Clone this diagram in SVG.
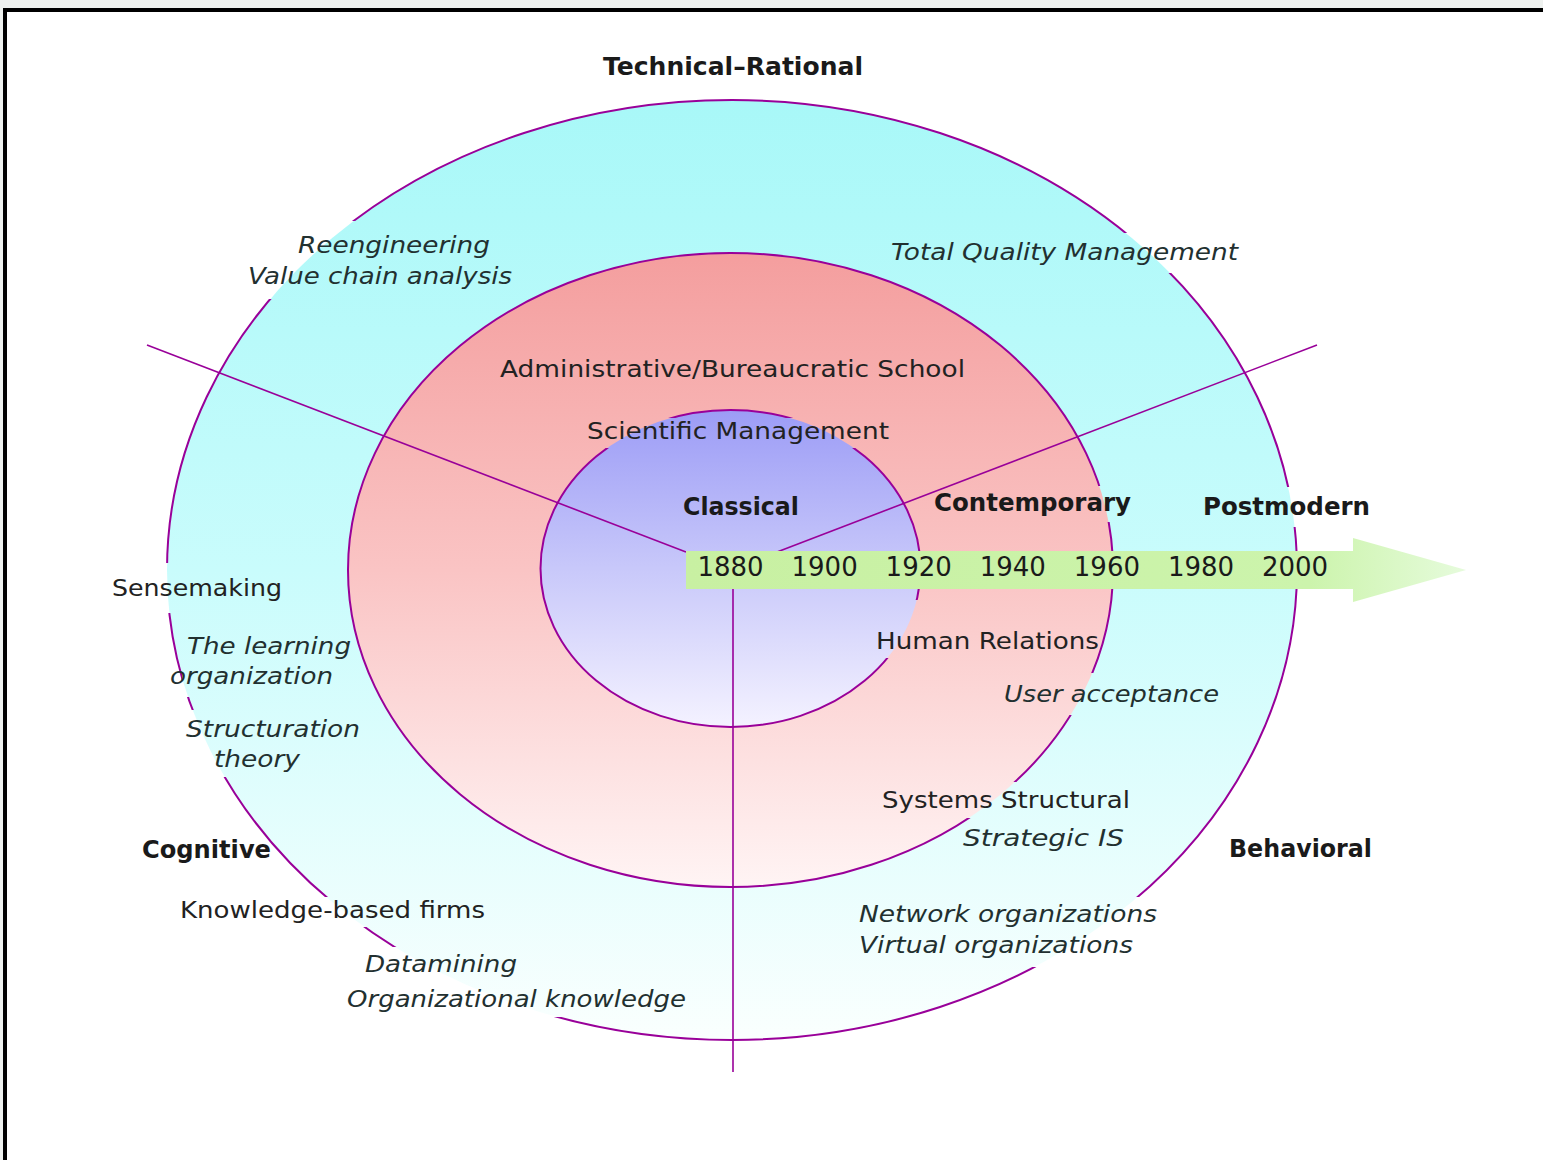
<svg xmlns="http://www.w3.org/2000/svg" width="1543" height="1160" viewBox="0 0 1543 1160">
<defs>
<linearGradient id="gOuter" x1="0" y1="0" x2="0" y2="1">
<stop offset="0" stop-color="#a8f8f8"/>
<stop offset="0.5" stop-color="#c9fcfc"/>
<stop offset="1" stop-color="#fafffe"/>
</linearGradient>
<linearGradient id="gMid" x1="0" y1="0" x2="0" y2="1">
<stop offset="0" stop-color="#f49e9e"/>
<stop offset="0.5" stop-color="#fac4c4"/>
<stop offset="1" stop-color="#fff4f4"/>
</linearGradient>
<linearGradient id="gIn" x1="0" y1="0" x2="0" y2="1">
<stop offset="0" stop-color="#9c9cf6"/>
<stop offset="0.5" stop-color="#c8c8fa"/>
<stop offset="1" stop-color="#f4f2ff"/>
</linearGradient>
<linearGradient id="gArrow" x1="686" y1="0" x2="1466" y2="0" gradientUnits="userSpaceOnUse">
<stop offset="0" stop-color="#c8f0a2"/>
<stop offset="0.8" stop-color="#ccf4ac"/>
<stop offset="1" stop-color="#e6fbdc"/>
</linearGradient>
<mask id="textGaps" maskUnits="userSpaceOnUse" x="0" y="0" width="1543" height="1160">
<rect x="0" y="0" width="1543" height="1160" fill="#fff"/>
<rect x="240" y="221" width="280" height="78" fill="#000"/>
<rect x="885" y="233" width="360" height="40" fill="#000"/>
<rect x="583" y="418" width="310" height="30" fill="#000"/>
<rect x="928" y="486" width="208" height="36" fill="#000"/>
<rect x="1198" y="487" width="177" height="40" fill="#000"/>
<rect x="105" y="563" width="185" height="50" fill="#000"/>
<rect x="182" y="664" width="156" height="33" fill="#000"/>
<rect x="180" y="710" width="185" height="67" fill="#000"/>
<rect x="175" y="897" width="315" height="30" fill="#000"/>
<rect x="340" y="947" width="352" height="70" fill="#000"/>
<rect x="870" y="600" width="227" height="58" fill="#000"/>
<rect x="1000" y="673" width="225" height="42" fill="#000"/>
<rect x="878" y="782" width="257" height="36" fill="#000"/>
<rect x="852" y="897" width="310" height="70" fill="#000"/>
</mask>
<style>
.ring{stroke:none}
.edge{fill:none;stroke:#990099;stroke-width:2}
.ray{fill:none;stroke:#990099;stroke-width:1.6}
.t{font-family:"DejaVu Sans","Liberation Sans",sans-serif;font-size:23px;fill:#222}
.i{font-style:italic;fill:#223030}
.b{font-weight:bold;font-size:25px;fill:#1a1a1a}
.y{font-family:"DejaVu Sans","Liberation Sans",sans-serif;font-size:26px;fill:#1a1a1a;text-anchor:middle}
</style>
</defs>
<rect x="0" y="0" width="1543" height="1160" fill="#eef1ef"/>
<rect x="3" y="8" width="1540" height="1152" fill="#ffffff"/>
<rect x="3" y="8" width="1540" height="4" fill="#000"/>
<rect x="3" y="8" width="4" height="1152" fill="#000"/>

<g id="rings">
<ellipse id="postmodern-ring" class="ring" cx="732" cy="570" rx="565" ry="470" fill="url(#gOuter)"/>
<ellipse id="contemporary-ring" class="ring" cx="730.5" cy="570" rx="382.5" ry="317" fill="url(#gMid)"/>
<ellipse id="classical-ring" class="ring" cx="730.5" cy="568.5" rx="190" ry="158.5" fill="url(#gIn)"/>
</g>
<g id="ring-edges" mask="url(#textGaps)">
<ellipse class="edge" cx="732" cy="570" rx="565" ry="470"/>
<ellipse class="edge" cx="730.5" cy="570" rx="382.5" ry="317"/>
<ellipse class="edge" cx="730.5" cy="568.5" rx="190" ry="158.5"/>
</g>

<g id="connectors">
<line class="ray" x1="147" y1="345" x2="686" y2="552"/>
<line class="ray" x1="1317" y1="345" x2="777" y2="552"/>
<line class="ray" x1="733" y1="588" x2="733" y2="1072"/>
<path id="timeline-arrow" d="M686 551 H1353 V538 L1466 570 L1353 602 V589 H686 Z" fill="url(#gArrow)"/>
</g>

<g id="years">
<text class="y" x="730.5" y="576">1880</text>
<text class="y" x="824.6" y="576">1900</text>
<text class="y" x="918.7" y="576">1920</text>
<text class="y" x="1012.8" y="576">1940</text>
<text class="y" x="1106.9" y="576">1960</text>
<text class="y" x="1201" y="576">1980</text>
<text class="y" x="1295" y="576">2000</text>
</g>

<g id="labels">
<g id="technical-rational"><text class="t b" x="603" y="75" textLength="260" lengthAdjust="spacingAndGlyphs">Technical–Rational</text></g>
<g id="reengineering"><text class="t i" x="298" y="253" textLength="192" lengthAdjust="spacingAndGlyphs">Reengineering</text>
<text class="t i" x="248" y="284" textLength="264" lengthAdjust="spacingAndGlyphs">Value chain analysis</text></g>
<g id="tqm"><text class="t i" x="891" y="260" textLength="347" lengthAdjust="spacingAndGlyphs">Total Quality Management</text></g>
<g id="administrative"><text class="t" x="500" y="377" textLength="465" lengthAdjust="spacingAndGlyphs">Administrative/Bureaucratic School</text></g>
<g id="scientific"><text class="t" x="587" y="439" textLength="302" lengthAdjust="spacingAndGlyphs">Scientific Management</text></g>
<g id="classical"><text class="t b" x="683" y="515" textLength="116" lengthAdjust="spacingAndGlyphs">Classical</text></g>
<g id="contemporary"><text class="t b" x="934" y="511" textLength="197" lengthAdjust="spacingAndGlyphs">Contemporary</text></g>
<g id="postmodern"><text class="t b" x="1203" y="515" textLength="167" lengthAdjust="spacingAndGlyphs">Postmodern</text></g>
<g id="sensemaking"><text class="t" x="112" y="596" textLength="170" lengthAdjust="spacingAndGlyphs">Sensemaking</text></g>
<g id="learning-org"><text class="t i" x="187" y="654" textLength="164" lengthAdjust="spacingAndGlyphs">The learning</text>
<text class="t i" x="170" y="684" textLength="163" lengthAdjust="spacingAndGlyphs">organization</text></g>
<g id="structuration"><text class="t i" x="186" y="737" textLength="174" lengthAdjust="spacingAndGlyphs">Structuration</text>
<text class="t i" x="214" y="767" textLength="86" lengthAdjust="spacingAndGlyphs">theory</text></g>
<g id="cognitive"><text class="t b" x="142" y="858" textLength="129" lengthAdjust="spacingAndGlyphs">Cognitive</text></g>
<g id="knowledge-firms"><text class="t" x="180" y="918" textLength="305" lengthAdjust="spacingAndGlyphs">Knowledge-based firms</text></g>
<g id="datamining"><text class="t i" x="365" y="972" textLength="152" lengthAdjust="spacingAndGlyphs">Datamining</text>
<text class="t i" x="347" y="1007" textLength="339" lengthAdjust="spacingAndGlyphs">Organizational knowledge</text></g>
<g id="human-relations"><text class="t" x="876" y="649" textLength="223" lengthAdjust="spacingAndGlyphs">Human Relations</text></g>
<g id="user-acceptance"><text class="t i" x="1004" y="702" textLength="215" lengthAdjust="spacingAndGlyphs">User acceptance</text></g>
<g id="systems-structural"><text class="t" x="882" y="808" textLength="248" lengthAdjust="spacingAndGlyphs">Systems Structural</text></g>
<g id="strategic-is"><text class="t i" x="963" y="846" textLength="161" lengthAdjust="spacingAndGlyphs">Strategic IS</text></g>
<g id="behavioral"><text class="t b" x="1229" y="857" textLength="143" lengthAdjust="spacingAndGlyphs">Behavioral</text></g>
<g id="network-org"><text class="t i" x="859" y="922" textLength="298" lengthAdjust="spacingAndGlyphs">Network organizations</text>
<text class="t i" x="859" y="953" textLength="274" lengthAdjust="spacingAndGlyphs">Virtual organizations</text></g>
</g>
</svg>
